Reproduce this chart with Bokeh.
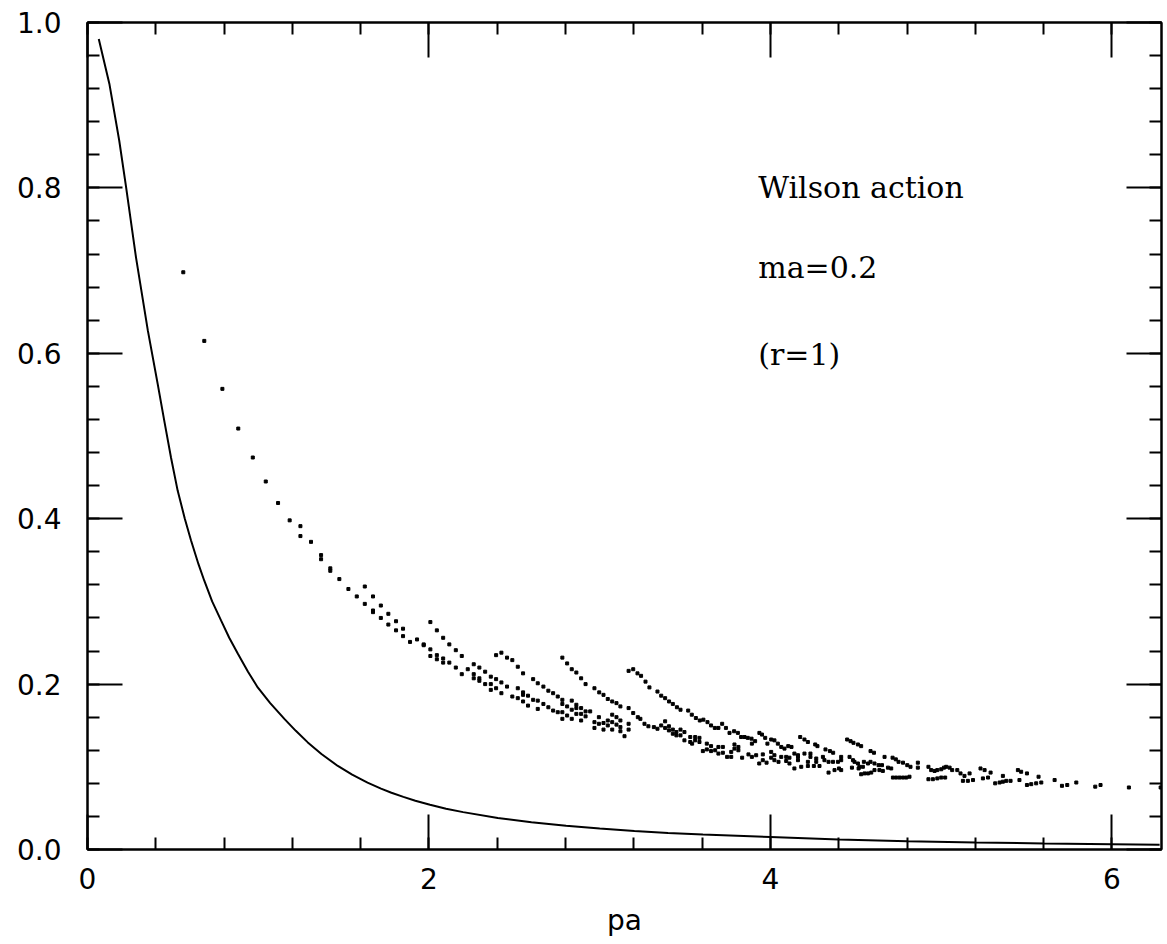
from bokeh.plotting import figure
from bokeh.models import (Range1d, LinearAxis, SingleIntervalTicker,
                          PrintfTickFormatter, CustomJSTickFormatter)
from bokeh.core.properties import value
from bokeh.embed import file_html
from bokeh.resources import INLINE

# ---- data ----
curve_x = [0.066, 0.128, 0.186, 0.226, 0.284, 0.353, 0.411, 0.450, 0.489, 0.528,
           0.570, 0.606, 0.650, 0.684, 0.730, 0.782, 0.830, 0.880, 0.940, 0.997,
           1.070, 1.153, 1.220, 1.290, 1.370, 1.466, 1.550, 1.640, 1.719, 1.780,
           1.850, 1.920, 2.006, 2.100, 2.200, 2.403, 2.600, 2.803, 3.000, 3.203,
           3.400, 3.604, 4.000, 4.400, 4.801, 5.201, 5.602, 6.000, 6.279]
curve_y = [0.980, 0.926, 0.857, 0.801, 0.716, 0.628, 0.563, 0.518, 0.474, 0.434,
           0.400, 0.374, 0.345, 0.325, 0.300, 0.277, 0.256, 0.237, 0.215, 0.196,
           0.177, 0.158, 0.1435, 0.1295, 0.1155, 0.101, 0.0905, 0.0809, 0.0736, 0.0686,
           0.0636, 0.0590, 0.0541, 0.0493, 0.0452, 0.0380, 0.0330, 0.0288, 0.0253, 0.0224,
           0.0200, 0.0180, 0.0150, 0.0120, 0.0100, 0.0085, 0.0073, 0.0064, 0.0057]

pts_x = [
    0.561, 0.684, 0.790, 0.883, 0.968, 1.044, 1.116, 1.184, 1.247, 1.247,
    1.309, 1.368, 1.368, 1.422, 1.422, 1.475, 1.528, 1.624, 1.577, 1.672,
    1.624, 1.672, 1.672, 1.718, 1.718, 1.762, 1.762, 1.807, 1.807, 1.848,
    1.848, 1.889, 1.930, 1.969, 1.969, 2.008, 2.046, 2.083, 2.119, 2.157,
    2.192, 2.008, 2.008, 2.046, 2.046, 2.083, 2.083, 2.119, 2.157, 2.192,
    2.227, 2.262, 2.262, 2.262, 2.295, 2.295, 2.295, 2.329, 2.329, 2.362,
    2.362, 2.362, 2.393, 2.424, 2.457, 2.488, 2.520, 2.551, 2.393, 2.393,
    2.424, 2.424, 2.457, 2.488, 2.520, 2.520, 2.551, 2.551, 2.551, 2.580,
    2.580, 2.610, 2.637, 2.670, 2.699, 2.727, 2.754, 2.781, 2.610, 2.637,
    2.637, 2.670, 2.699, 2.727, 2.754, 2.781, 2.781, 2.781, 2.781, 2.809,
    2.836, 2.863, 2.891, 2.917, 2.809, 2.809, 2.836, 2.836, 2.836, 2.863,
    2.863, 2.863, 2.891, 2.891, 2.891, 2.917, 2.917, 2.944, 2.969, 2.997,
    3.022, 3.047, 3.073, 3.098, 3.121, 2.969, 2.969, 2.995, 2.995, 3.022,
    3.022, 3.047, 3.047, 3.073, 3.073, 3.073, 3.098, 3.098, 3.121, 3.121,
    3.121, 3.145, 3.169, 3.169, 3.169, 3.169, 3.196, 3.221, 3.242, 3.268,
    3.291, 3.338, 3.360, 3.383, 3.406, 3.428, 3.452, 3.473, 3.518, 3.539,
    3.563, 3.586, 3.607, 3.631, 3.652, 3.674, 3.695, 3.717, 3.739, 3.760,
    3.787, 3.809, 3.828, 3.848, 3.867, 3.889, 3.910, 3.935, 3.950, 3.969,
    3.982, 4.004, 4.023, 4.043, 4.063, 4.082, 4.104, 4.123, 4.140, 4.161,
    4.174, 4.199, 4.219, 4.262, 4.275, 4.322, 4.348, 4.367, 3.196, 3.223,
    3.238, 3.262, 3.285, 3.317, 3.338, 3.360, 3.383, 3.383, 3.405, 3.405,
    3.428, 3.428, 3.449, 3.449, 3.473, 3.473, 3.496, 3.496, 3.530, 3.530,
    3.541, 3.559, 3.559, 3.584, 3.584, 3.604, 3.627, 3.627, 3.652, 3.652,
    3.676, 3.695, 3.695, 3.721, 3.721, 3.746, 3.770, 3.770, 3.789, 3.789,
    3.812, 3.812, 3.834, 3.871, 3.891, 3.891, 3.916, 3.934, 3.955, 3.955,
    3.977, 4.004, 4.004, 4.023, 4.023, 4.047, 4.063, 4.092, 4.092, 4.111,
    4.111, 4.140, 4.161, 4.161, 4.180, 4.199, 4.219, 4.219, 4.234, 4.234,
    4.254, 4.268, 4.268, 4.287, 4.307, 4.340, 4.340, 4.366, 4.375, 4.395,
    4.401, 4.449, 4.469, 4.486, 4.512, 4.531, 4.586, 4.606, 4.668, 4.715,
    4.734, 4.750, 4.776, 4.801, 4.820, 4.863, 4.863, 4.925, 4.977, 4.316,
    4.414, 4.414, 4.414, 4.463, 4.483, 4.492, 4.512, 4.521, 4.541, 4.477,
    4.516, 4.547, 4.571, 4.586, 4.609, 4.633, 4.653, 4.531, 4.551, 4.571,
    4.590, 4.609, 4.638, 4.658, 4.688, 4.707, 4.717, 4.736, 4.756, 4.776,
    4.795, 4.814, 4.941, 4.961, 5.000, 5.016, 5.029, 5.049, 5.064, 4.925,
    4.951, 4.977, 5.000, 5.023, 5.094, 5.113, 5.136, 5.166, 5.127, 5.156,
    5.186, 5.230, 5.254, 5.289, 5.244, 5.274, 5.316, 5.342, 5.361, 5.381,
    5.406, 5.361, 5.449, 5.468, 5.502, 5.458, 5.502, 5.527, 5.556, 5.586,
    5.570, 5.664, 5.707, 5.738, 5.791, 5.902, 5.933, 6.099, 6.285,
]
pts_y = [
    0.698, 0.615, 0.557, 0.509, 0.474, 0.445, 0.419, 0.398, 0.391, 0.379,
    0.372, 0.356, 0.351, 0.340, 0.337, 0.327, 0.315, 0.318, 0.306, 0.306,
    0.297, 0.289, 0.287, 0.295, 0.280, 0.285, 0.272, 0.276, 0.265, 0.267,
    0.258, 0.251, 0.254, 0.248, 0.247, 0.275, 0.265, 0.256, 0.248, 0.241,
    0.234, 0.242, 0.234, 0.235, 0.230, 0.231, 0.226, 0.226, 0.220, 0.212,
    0.218, 0.224, 0.212, 0.207, 0.220, 0.207, 0.204, 0.215, 0.200, 0.209,
    0.200, 0.193, 0.235, 0.238, 0.232, 0.229, 0.221, 0.213, 0.206, 0.195,
    0.202, 0.189, 0.197, 0.185, 0.195, 0.183, 0.190, 0.187, 0.179, 0.186,
    0.174, 0.206, 0.201, 0.197, 0.192, 0.189, 0.185, 0.181, 0.181, 0.180,
    0.170, 0.176, 0.172, 0.168, 0.166, 0.176, 0.166, 0.158, 0.232, 0.225,
    0.218, 0.214, 0.207, 0.200, 0.173, 0.162, 0.180, 0.169, 0.158, 0.175,
    0.171, 0.164, 0.171, 0.164, 0.156, 0.167, 0.161, 0.167, 0.195, 0.190,
    0.187, 0.182, 0.179, 0.177, 0.173, 0.154, 0.147, 0.160, 0.152, 0.153,
    0.145, 0.156, 0.150, 0.163, 0.154, 0.145, 0.160, 0.151, 0.156, 0.148,
    0.143, 0.137, 0.216, 0.171, 0.152, 0.145, 0.218, 0.213, 0.210, 0.203,
    0.196, 0.191, 0.186, 0.183, 0.179, 0.176, 0.172, 0.169, 0.168, 0.163,
    0.159, 0.156, 0.157, 0.154, 0.150, 0.147, 0.147, 0.152, 0.147, 0.141,
    0.143, 0.141, 0.136, 0.136, 0.135, 0.134, 0.131, 0.141, 0.139, 0.135,
    0.128, 0.133, 0.132, 0.128, 0.124, 0.122, 0.125, 0.124, 0.116, 0.114,
    0.136, 0.133, 0.130, 0.127, 0.125, 0.121, 0.119, 0.117, 0.165, 0.160,
    0.158, 0.152, 0.149, 0.148, 0.146, 0.150, 0.155, 0.147, 0.149, 0.144,
    0.145, 0.140, 0.142, 0.138, 0.145, 0.138, 0.142, 0.132, 0.136, 0.130,
    0.128, 0.136, 0.132, 0.135, 0.130, 0.119, 0.128, 0.121, 0.125, 0.119,
    0.120, 0.124, 0.116, 0.124, 0.117, 0.112, 0.118, 0.112, 0.127, 0.122,
    0.124, 0.120, 0.111, 0.115, 0.112, 0.128, 0.114, 0.104, 0.115, 0.108,
    0.105, 0.118, 0.111, 0.114, 0.108, 0.106, 0.112, 0.107, 0.112, 0.111,
    0.104, 0.098, 0.112, 0.108, 0.100, 0.116, 0.106, 0.101, 0.116, 0.112,
    0.101, 0.110, 0.106, 0.101, 0.112, 0.106, 0.093, 0.106, 0.096, 0.106,
    0.098, 0.133, 0.131, 0.129, 0.127, 0.125, 0.119, 0.117, 0.112, 0.111,
    0.109, 0.106, 0.105, 0.102, 0.100, 0.105, 0.099, 0.100, 0.096, 0.108,
    0.112, 0.108, 0.096, 0.112, 0.108, 0.106, 0.104, 0.100, 0.100, 0.099,
    0.098, 0.106, 0.104, 0.106, 0.104, 0.102, 0.102, 0.091, 0.092, 0.092,
    0.093, 0.096, 0.096, 0.095, 0.099, 0.098, 0.087, 0.087, 0.087, 0.087,
    0.087, 0.088, 0.096, 0.095, 0.097, 0.099, 0.100, 0.099, 0.096, 0.085,
    0.085, 0.086, 0.087, 0.087, 0.096, 0.092, 0.089, 0.092, 0.083, 0.083,
    0.084, 0.098, 0.096, 0.093, 0.086, 0.087, 0.080, 0.081, 0.082, 0.083,
    0.083, 0.089, 0.096, 0.094, 0.092, 0.084, 0.078, 0.079, 0.080, 0.081,
    0.088, 0.084, 0.077, 0.078, 0.081, 0.076, 0.078, 0.075, 0.075,
]

notes = ["Wilson action", "ma=0.2", "(r=1)"]
x_label = "pa"

# ---- figure ----
p = figure(width=1167, height=944, output_backend="svg", toolbar_location=None,
           x_range=Range1d(0, 6.29), y_range=Range1d(0, 1.0),
           min_border_left=87, min_border_right=6, min_border_top=22, min_border_bottom=95)
p.background_fill_color = "white"
p.border_fill_color = "white"
p.outline_line_color = "black"
p.outline_line_width = 2
p.xgrid.visible = False
p.ygrid.visible = False

LBL_FONT = "DejaVu Sans"


def style_axis(ax, show_labels):
    ax.axis_line_color = "black"
    ax.axis_line_width = 2
    ax.major_tick_in = 35
    ax.major_tick_out = 0
    ax.minor_tick_in = 12
    ax.minor_tick_out = 0
    ax.major_tick_line_width = 2
    ax.minor_tick_line_width = 2
    ax.major_tick_line_color = "black"
    ax.minor_tick_line_color = "black"
    if show_labels:
        ax.major_label_text_font = LBL_FONT
        ax.major_label_text_font_size = "28px"
        ax.major_label_text_color = "black"
    else:
        ax.formatter = CustomJSTickFormatter(code="return '';")
        ax.major_label_text_font_size = "2px"
        ax.major_label_standoff = 0


p.xaxis.ticker = SingleIntervalTicker(interval=2, num_minor_ticks=5)
p.yaxis.ticker = SingleIntervalTicker(interval=0.2, num_minor_ticks=5)
p.yaxis.formatter = PrintfTickFormatter(format="%.1f")
style_axis(p.xaxis[0], True)
style_axis(p.yaxis[0], True)
p.xaxis.major_label_standoff = 18
p.yaxis.major_label_standoff = 26
p.xaxis.axis_label = x_label
p.xaxis.axis_label_text_font = LBL_FONT
p.xaxis.axis_label_text_font_size = "28px"
p.xaxis.axis_label_text_font_style = "normal"
p.xaxis.axis_label_text_color = "black"
p.xaxis.axis_label_standoff = 12

top = LinearAxis(ticker=SingleIntervalTicker(interval=2, num_minor_ticks=5))
right = LinearAxis(ticker=SingleIntervalTicker(interval=0.2, num_minor_ticks=5))
style_axis(top, False)
style_axis(right, False)
p.add_layout(top, "above")
p.add_layout(right, "right")

# ---- marks ----
p.line(curve_x, curve_y, line_color="black", line_width=2)
p.scatter(pts_x, pts_y, marker="square", size=3, fill_color="black", line_color="black")

p.text(x=[3.928, 3.928, 3.928], y=[0.800, 0.704, 0.598], text=notes,
       text_font=value("DejaVu Serif"), text_font_size="30px",
       text_align="left", text_baseline="alphabetic", text_color="black")

open("out.html", "w").write(file_html(p, INLINE))
